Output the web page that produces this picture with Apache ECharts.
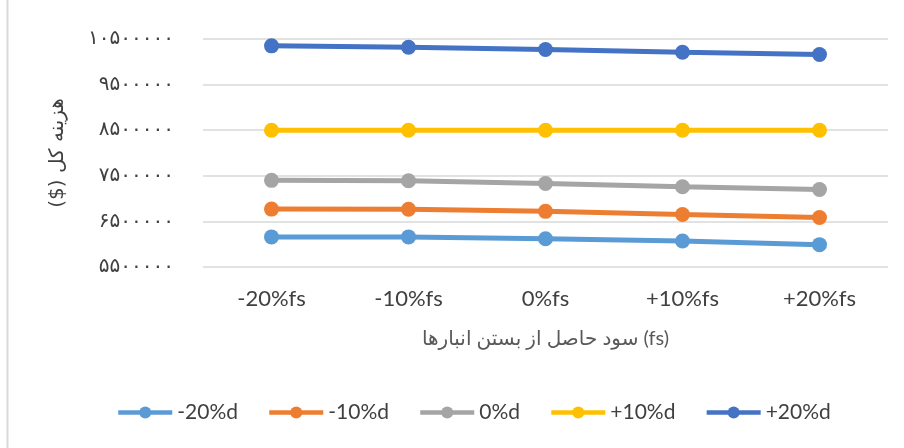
<!DOCTYPE html>
<html>
<head>
<meta charset="utf-8">
<script src="https://cdn.jsdelivr.net/npm/echarts@6/dist/echarts.min.js"></script>
<style>
  html, body { margin: 0; padding: 0; background: #fff; }
  #chart { width: 904px; height: 448px; }
</style>
</head>
<body>
<div id="chart"></div>
<script>
// categories on the x axis
const categories = ['-20%fs', '-10%fs', '0%fs', '+10%fs', '+20%fs']

// series values
const seriesNames = ['-20%d', '-10%d', '0%d', '+10%d', '+20%d']
const minus20d = [6160000, 6160000, 6120000, 6070000, 5990000]
const minus10d = [6770000, 6765000, 6720000, 6650000, 6585000]
const zeroD    = [7400000, 7390000, 7330000, 7260000, 7200000]
const plus10d  = [8500000, 8500000, 8500000, 8500000, 8500000]
const plus20d  = [10350000, 10320000, 10270000, 10210000, 10160000]

// y tick values and their Persian labels
const yTicks = [5500000, 6500000, 7500000, 8500000, 9500000, 10500000]
const yTickLabels = ['۵۵۰۰۰۰۰', '۶۵۰۰۰۰۰', '۷۵۰۰۰۰۰', '۸۵۰۰۰۰۰', '۹۵۰۰۰۰۰', '۱۰۵۰۰۰۰۰']

const xTitle = 'سود حاصل از بستن انبارها (fs)'
// RLE ... PDF so the parenthesised part sits on the left, as in RTL text
const yTitle = '\u202Bهزینه کل ($)\u202C'

const colors = ['#5B9BD5', '#ED7D31', '#A5A5A5', '#FFC000', '#4472C4']
const FONT = "Lato, 'DejaVu Sans', sans-serif"
const FA_FONT = "'DejaVu Sans', sans-serif"

const chart = echarts.init(document.getElementById('chart'))

const seriesData = [minus20d, minus10d, zeroD, plus10d, plus20d]

chart.setOption({
  animation: false,
  color: colors,
  textStyle: { fontFamily: FONT },
  graphic: [
    {
      type: 'line',
      shape: { x1: 7.5, y1: 0, x2: 7.5, y2: 448 },
      style: { stroke: '#d9d9d9', lineWidth: 2 },
      silent: true
    }
  ],
  grid: { left: 203, right: 16, top: 39, bottom: 181 },
  legend: {
    bottom: 20,
    left: 111,
    itemWidth: 54,
    itemHeight: 15,
    itemGap: 29,
    lineStyle: { width: 4.5 },
    textStyle: { fontSize: 21, color: '#404040', fontFamily: FONT },
    data: seriesNames
  },
  xAxis: {
    type: 'category',
    data: categories,
    boundaryGap: true,
    axisLine: { show: false },
    axisTick: { show: false },
    axisLabel: { fontSize: 22, color: '#404040', margin: 21, fontFamily: FONT },
    name: xTitle,
    nameLocation: 'middle',
    nameGap: 62,
    nameTextStyle: { fontSize: 20, color: '#595959', fontFamily: FONT }
  },
  yAxis: {
    type: 'value',
    min: 5500000,
    max: 10500000,
    interval: 1000000,
    axisLine: { show: false },
    axisTick: { show: false },
    splitLine: { lineStyle: { color: '#d9d9d9', width: 1.5 } },
    axisLabel: {
      fontSize: 20,
      color: '#404040',
      margin: 29,
      fontFamily: FA_FONT,
      formatter: (v) => {
        const i = yTicks.indexOf(v)
        return i >= 0 ? yTickLabels[i] : ''
      }
    },
    name: yTitle,
    nameLocation: 'middle',
    nameRotate: 90,
    nameGap: 135,
    nameTextStyle: { fontSize: 20, color: '#404040', fontFamily: FA_FONT }
  },
  series: seriesNames.map((name, i) => ({
    name,
    type: 'line',
    data: seriesData[i],
    symbol: 'circle',
    symbolSize: 15,
    lineStyle: { width: 5, color: colors[i] },
    itemStyle: { color: colors[i] }
  }))
})
</script>
</body>
</html>
